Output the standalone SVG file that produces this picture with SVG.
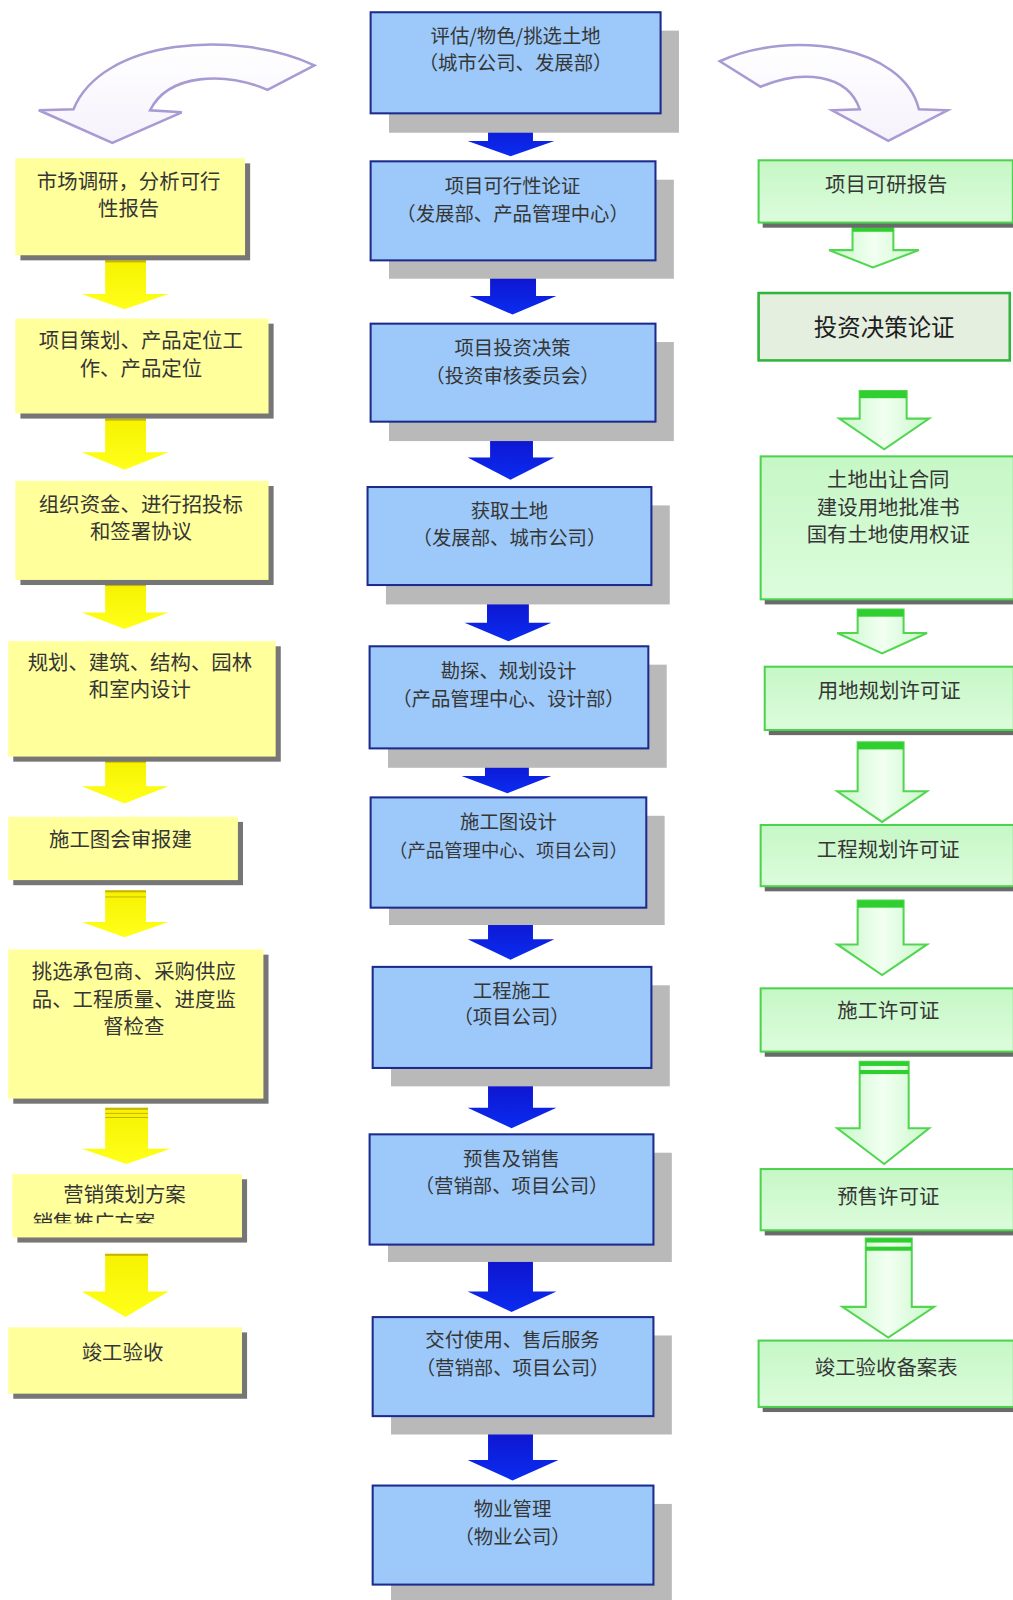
<svg xmlns="http://www.w3.org/2000/svg" width="1013" height="1600" viewBox="0 0 1013 1600">
<defs>
<linearGradient id="gBlueArrow" x1="0" y1="0" x2="0" y2="1"><stop offset="0" stop-color="#1010c8"/><stop offset="1" stop-color="#0a2cf0"/></linearGradient>
<linearGradient id="gYellowArrow" x1="0" y1="0" x2="0" y2="1"><stop offset="0" stop-color="#f6f200"/><stop offset="1" stop-color="#ffff1a"/></linearGradient>
<linearGradient id="gGreenArrow" x1="0" y1="0" x2="1" y2="0"><stop offset="0" stop-color="#c8f8c8"/><stop offset="0.5" stop-color="#f2fff2"/><stop offset="1" stop-color="#c8f8c8"/></linearGradient>
<linearGradient id="gGreenBox" x1="0" y1="0" x2="0" y2="1"><stop offset="0" stop-color="#c6f7c6"/><stop offset="1" stop-color="#dcfcdc"/></linearGradient>
<linearGradient id="gCurve" x1="0" y1="0" x2="0" y2="1"><stop offset="0" stop-color="#ffffff"/><stop offset="1" stop-color="#f6f2fc"/></linearGradient>
<clipPath id="clipY7"><rect x="12" y="1150" width="225" height="48"/></clipPath>
<style>
.bshadow{fill:#b9b9b9}
.bbox{fill:#9cc9f9;stroke:#1c2a8c;stroke-width:2}
.ybox{fill:#ffff9c}
.yshadow{fill:#767676}
.gbox{fill:url(#gGreenBox);stroke:#4cd24c;stroke-width:2}
.gshadow{fill:#6a6a6a}
.barrow{fill:url(#gBlueArrow)}
.bstripe{fill:#2a2aa0}
.yarrow{fill:url(#gYellowArrow)}
.ystripe{fill:#c8b400}
.garrow{fill:url(#gGreenArrow);stroke:#52d652;stroke-width:2}
.gstripe{fill:#2ecf2e}
.curve{fill:url(#gCurve);stroke:#a89ad2;stroke-width:2.5}
text{font-family:"Noto Sans CJK SC","Noto Sans CJK JP",sans-serif;fill:#363636;text-anchor:middle}
.t19{font-size:19px}
.t18{font-size:18px}
.t20{font-size:20px}
.t23{font-size:23px;fill:#1e1e1e}
</style>
</defs>
<rect x="0" y="0" width="1013" height="1600" fill="#ffffff"/>
<g id="diagram" transform="scale(1.021)">
<g id="connectors">
<path class="curve" d="M308 64 C230 28,100 38,72 107 L38 108 L110 140 L178 110 L147 108 C165 72,220 70,262 88 Z"/>
<path class="curve" d="M705 60 C775 28,885 45,900 107 L928 108 L870 138 L815 108 L842 107 C830 72,785 68,745 85 Z"/>

<polygon class="barrow" points="478,108 522,108 522,138 543,138 500,153 458,138 478,138"/>
<rect class="bstripe" x="478" y="108" width="44" height="8"/>
<polygon class="barrow" points="480,262 525,262 525,290 545,290 502,308 460,290 480,290"/>
<rect class="bstripe" x="480" y="262" width="45" height="8"/>
<polygon class="barrow" points="480,418 522,418 522,448 543,448 500,470 458,448 480,448"/>
<rect class="bstripe" x="480" y="418" width="42" height="8"/>
<polygon class="barrow" points="477,580 518,580 518,610 540,610 498,628 455,610 477,610"/>
<rect class="bstripe" x="477" y="580" width="41" height="9"/>
<polygon class="barrow" points="475,735 518,735 518,760 540,760 497,777 452,760 475,760"/>
<rect class="bstripe" x="475" y="735" width="43" height="12"/>
<polygon class="barrow" points="478,890 522,890 522,920 543,920 500,940 458,920 478,920"/>
<rect class="bstripe" x="478" y="890" width="44" height="7"/>
<polygon class="barrow" points="478,1052 522,1052 522,1085 545,1085 501,1105 458,1085 478,1085"/>
<rect class="bstripe" x="478" y="1052" width="44" height="6"/>
<polygon class="barrow" points="478,1225 522,1225 522,1265 545,1265 501,1285 458,1265 478,1265"/>
<rect class="bstripe" x="478" y="1225" width="44" height="8"/>
<polygon class="barrow" points="478,1390 522,1390 522,1430 547,1430 502,1450 458,1430 478,1430"/>
<rect class="bstripe" x="478" y="1390" width="44" height="8"/>

<polygon class="yarrow" points="103,255 143,255 143,288 165,288 122,303 80,288 103,288"/>
<rect class="ystripe" x="103" y="255" width="40" height="2"/>
<polygon class="yarrow" points="103,410 143,410 143,443 165,443 122,460 80,443 103,443"/>
<rect class="ystripe" x="103" y="410" width="40" height="2"/>
<polygon class="yarrow" points="103,572 143,572 143,600 165,600 122,616 80,600 103,600"/>
<rect class="ystripe" x="103" y="572" width="40" height="2"/>
<polygon class="yarrow" points="103,745 143,745 143,770 165,770 122,787 80,770 103,770"/>
<rect class="ystripe" x="103" y="745" width="40" height="2"/>
<polygon class="yarrow" points="103,872 143,872 143,903 165,903 122,918 80,903 103,903"/>
<rect class="ystripe" x="103" y="872" width="40" height="2"/>
<rect class="ystripe" x="103" y="878" width="40" height="1"/>
<polygon class="yarrow" points="103,1085 145,1085 145,1125 167,1125 124,1140 80,1125 103,1125"/>
<rect class="ystripe" x="103" y="1085" width="42" height="2"/>
<rect class="ystripe" x="103" y="1090" width="42" height="1"/>
<rect class="ystripe" x="103" y="1094" width="42" height="1"/>
<polygon class="yarrow" points="103,1228 145,1228 145,1265 165,1265 123,1290 80,1265 103,1265"/>
<rect class="ystripe" x="103" y="1228" width="42" height="2"/>

<polygon class="garrow" points="835,223 875,223 875,245 900,245 855,262 812,245 835,245"/>
<rect class="gstripe" x="835" y="223" width="40" height="4"/>
<polygon class="garrow" points="842,383 888,383 888,410 910,410 866,440 822,410 842,410"/>
<rect class="gstripe" x="842" y="383" width="46" height="7"/>
<polygon class="garrow" points="840,597 885,597 885,620 908,620 864,640 820,620 840,620"/>
<rect class="gstripe" x="840" y="597" width="45" height="7"/>
<polygon class="garrow" points="840,727 885,727 885,775 908,775 864,805 820,775 840,775"/>
<rect class="gstripe" x="840" y="727" width="45" height="7"/>
<polygon class="garrow" points="840,882 885,882 885,925 908,925 864,955 820,925 840,925"/>
<rect class="gstripe" x="840" y="882" width="45" height="7"/>
<polygon class="garrow" points="842,1040 890,1040 890,1105 910,1105 866,1140 820,1105 842,1105"/>
<rect class="gstripe" x="842" y="1040" width="48" height="4"/>
<rect class="gstripe" x="842" y="1048" width="48" height="4"/>
<polygon class="garrow" points="848,1213 893,1213 893,1280 915,1280 870,1310 825,1280 848,1280"/>
<rect class="gstripe" x="848" y="1213" width="45" height="4"/>
<rect class="gstripe" x="848" y="1221" width="45" height="4"/>
</g>

<g id="c1"><rect class="bshadow" x="381" y="30" width="284" height="100"/><rect class="bbox" x="363" y="12" width="284" height="99"/>
<text class="t19" x="505" y="42">评估/物色/挑选土地</text><text class="t19" x="505" y="69">（城市公司、发展部）</text></g>
<g id="c2"><rect class="bshadow" x="381" y="176" width="279" height="97"/><rect class="bbox" x="363" y="158" width="279" height="97"/>
<text class="t19" x="502" y="189">项目可行性论证</text><text class="t19" x="502" y="216">（发展部、产品管理中心）</text></g>
<g id="c3"><rect class="bshadow" x="381" y="335" width="279" height="97"/><rect class="bbox" x="363" y="317" width="279" height="96"/>
<text class="t19" x="502" y="348">项目投资决策</text><text class="t19" x="502" y="375">（投资审核委员会）</text></g>
<g id="c4"><rect class="bshadow" x="378" y="495" width="278" height="97"/><rect class="bbox" x="360" y="477" width="278" height="96"/>
<text class="t19" x="499" y="507">获取土地</text><text class="t19" x="499" y="534">（发展部、城市公司）</text></g>
<g id="c5"><rect class="bshadow" x="380" y="651" width="273" height="101"/><rect class="bbox" x="362" y="633" width="273" height="100"/>
<text class="t19" x="498" y="664">勘探、规划设计</text><text class="t19" x="498" y="691">（产品管理中心、设计部）</text></g>
<g id="c6"><rect class="bshadow" x="381" y="799" width="270" height="107"/><rect class="bbox" x="363" y="781" width="270" height="108"/>
<text class="t19" x="498" y="812">施工图设计</text><text class="t18" x="498" y="839">（产品管理中心、项目公司）</text></g>
<g id="c7"><rect class="bshadow" x="383" y="965" width="273" height="99"/><rect class="bbox" x="365" y="947" width="273" height="99"/>
<text class="t19" x="501" y="977">工程施工</text><text class="t19" x="501" y="1003">（项目公司）</text></g>
<g id="c8"><rect class="bshadow" x="380" y="1129" width="278" height="107"/><rect class="bbox" x="362" y="1111" width="278" height="108"/>
<text class="t19" x="501" y="1142">预售及销售</text><text class="t19" x="501" y="1168">（营销部、项目公司）</text></g>
<g id="c9"><rect class="bshadow" x="383" y="1308" width="275" height="97"/><rect class="bbox" x="365" y="1290" width="275" height="97"/>
<text class="t19" x="502" y="1319">交付使用、售后服务</text><text class="t19" x="502" y="1347">（营销部、项目公司）</text></g>
<g id="c10"><rect class="bshadow" x="383" y="1473" width="275" height="97"/><rect class="bbox" x="365" y="1455" width="275" height="97"/>
<text class="t19" x="502" y="1485">物业管理</text><text class="t19" x="502" y="1512">（物业公司）</text></g>

<g id="y1"><rect class="yshadow" x="20" y="160" width="225" height="95"/><rect class="ybox" x="15" y="155" width="225" height="95"/>
<text class="t20" x="126" y="185">市场调研，分析可行</text><text class="t20" x="126" y="212">性报告</text></g>
<g id="y2"><rect class="yshadow" x="20" y="317" width="248" height="93"/><rect class="ybox" x="15" y="312" width="248" height="93"/>
<text class="t20" x="138" y="341">项目策划、产品定位工</text><text class="t20" x="138" y="368">作、产品定位</text></g>
<g id="y3"><rect class="yshadow" x="20" y="476" width="248" height="97"/><rect class="ybox" x="15" y="471" width="248" height="97"/>
<text class="t20" x="138" y="501">组织资金、进行招投标</text><text class="t20" x="138" y="528">和签署协议</text></g>
<g id="y4"><rect class="yshadow" x="13" y="633" width="262" height="113"/><rect class="ybox" x="8" y="628" width="262" height="113"/>
<text class="t20" x="137" y="656">规划、建筑、结构、园林</text><text class="t20" x="137" y="683">和室内设计</text></g>
<g id="y5"><rect class="yshadow" x="13" y="805" width="225" height="62"/><rect class="ybox" x="8" y="800" width="225" height="62"/>
<text class="t20" x="118" y="830">施工图会审报建</text></g>
<g id="y6"><rect class="yshadow" x="13" y="935" width="250" height="146"/><rect class="ybox" x="8" y="930" width="250" height="146"/>
<text class="t20" x="131" y="959">挑选承包商、采购供应</text><text class="t20" x="131" y="986">品、工程质量、进度监</text><text class="t20" x="131" y="1013">督检查</text></g>
<g id="y7"><rect class="yshadow" x="17" y="1155" width="225" height="62"/><rect class="ybox" x="12" y="1150" width="225" height="62"/>
<text class="t20" x="122" y="1177">营销策划方案</text><text class="t20" x="32" y="1205" style="text-anchor:start" clip-path="url(#clipY7)">销售推广方案</text></g>
<g id="y8"><rect class="yshadow" x="13" y="1305" width="229" height="65"/><rect class="ybox" x="8" y="1300" width="229" height="65"/>
<text class="t20" x="120" y="1332">竣工验收</text></g>

<g id="g1"><rect class="gshadow" x="747" y="162" width="250" height="61"/><rect class="gbox" x="743" y="157" width="249" height="61"/>
<text class="t20" x="868" y="188">项目可研报告</text></g>
<g id="g2"><rect x="743" y="287" width="246" height="66" fill="#e4efe0" stroke="#2fb43c" stroke-width="2.5"/>
<text class="t23" x="866" y="329">投资决策论证</text></g>
<g id="g3"><rect class="gshadow" x="749" y="452" width="248" height="140"/><rect class="gbox" x="745" y="447" width="248" height="140"/>
<text class="t20" x="870" y="477">土地出让合同</text><text class="t20" x="870" y="504">建设用地批准书</text><text class="t20" x="870" y="531">国有土地使用权证</text></g>
<g id="g4"><rect class="gshadow" x="753" y="658" width="244" height="62"/><rect class="gbox" x="749" y="653" width="244" height="62"/>
<text class="t20" x="871" y="684">用地规划许可证</text></g>
<g id="g5"><rect class="gshadow" x="749" y="813" width="248" height="60"/><rect class="gbox" x="745" y="808" width="248" height="60"/>
<text class="t20" x="870" y="839">工程规划许可证</text></g>
<g id="g6"><rect class="gshadow" x="749" y="973" width="248" height="62"/><rect class="gbox" x="745" y="968" width="248" height="62"/>
<text class="t20" x="870" y="997">施工许可证</text></g>
<g id="g7"><rect class="gshadow" x="749" y="1150" width="248" height="60"/><rect class="gbox" x="745" y="1145" width="248" height="60"/>
<text class="t20" x="870" y="1179">预售许可证</text></g>
<g id="g8"><rect class="gshadow" x="747" y="1318" width="250" height="65"/><rect class="gbox" x="743" y="1313" width="250" height="65"/>
<text class="t20" x="868" y="1347">竣工验收备案表</text></g>
</g>
</svg>
